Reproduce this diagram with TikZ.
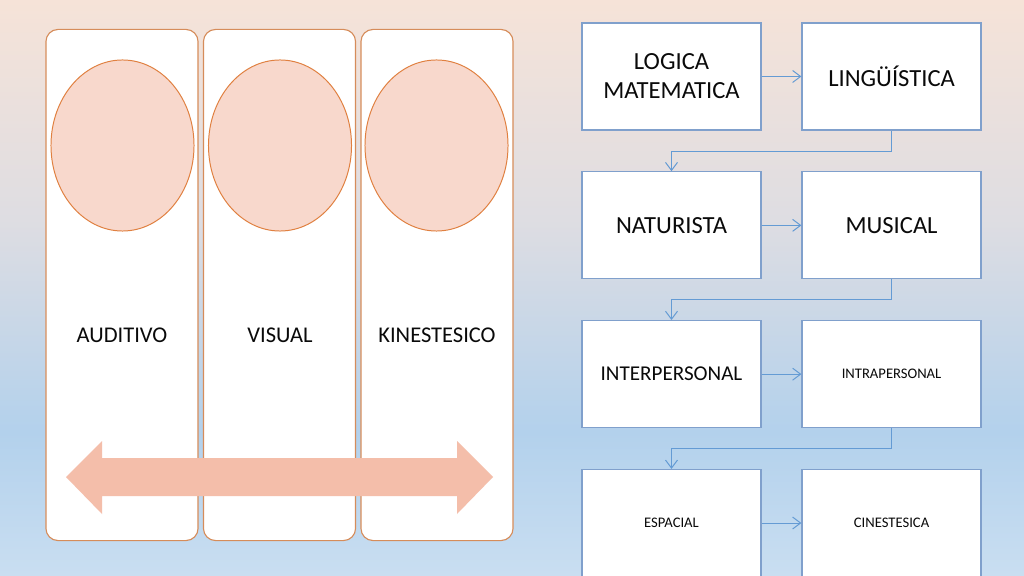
\documentclass[tikz,border=0pt]{standalone}
\usepackage{fontspec}
\setmainfont{Carlito}
\usepackage{tikz}
\usetikzlibrary{arrows.meta,shapes,positioning}
\usepackage{xcolor}
\definecolor{bgtop}{RGB}{246,227,216}
\definecolor{bgmid}{RGB}{222,221,226}
\definecolor{bgblue}{RGB}{179,209,236}
\definecolor{bgbottom}{RGB}{201,222,241}
\definecolor{colorange}{RGB}{214,140,90}
\definecolor{eorange}{RGB}{224,128,64}
\definecolor{epink}{RGB}{248,216,204}
\definecolor{salmon}{RGB}{244,190,170}
\definecolor{boxblue}{RGB}{128,160,204}
\definecolor{lnblue}{RGB}{100,155,212}
\definecolor{dftext}{RGB}{10,10,10}
\pgfdeclareverticalshading{slidebg}{100bp}{color(0bp)=(bgbottom); color(25bp)=(bgbottom); color(37.5bp)=(bgblue); color(56bp)=(bgmid); color(75bp)=(bgtop); color(100bp)=(bgtop)}
\tikzstyle{column} = [rectangle, rounded corners=0.3cm, minimum width=3.8cm, minimum height=12.775cm, draw=colorange, fill=white, line width=0.8pt]
\tikzstyle{bubble} = [ellipse, minimum width=3.575cm, minimum height=4.275cm, draw=eorange, fill=epink, line width=0.7pt]
\tikzstyle{colname} = [font=\fontsize{16}{19}\selectfont, text=dftext]
\tikzstyle{intel} = [rectangle, minimum width=4.475cm, minimum height=2.675cm, draw=boxblue, fill=white, line width=0.9pt, align=center, inner sep=0pt, text=dftext, font=\fontsize{17.5}{20.5}\selectfont]
\tikzstyle{arrow} = [line width=0.7pt, color=lnblue, -{Straight Barb[length=0.2cm,width=0.3cm]}]

\begin{document}
\begin{tikzpicture}[x=0.025cm, y=-0.025cm]
% Background
\useasboundingbox (0,0) rectangle (1024,576);
\shade[shading=slidebg] (0,0) rectangle (1024,576);

% Learning styles
\node (auditivo) [column] at (122,285) {};
\node (visual) [column] at (279.5,285) {};
\node (kinest) [column] at (437,285) {};
\node (bauditivo) [bubble] at (122.5,145.5) {};
\node (bvisual) [bubble] at (280,145.5) {};
\node (bkinest) [bubble] at (436.5,145.5) {};
\node (lauditivo) [colname] at (122,335) {AUDITIVO};
\node (lvisual) [colname] at (280,335) {VISUAL};
\node (lkinest) [colname] at (437,335) {KINESTESICO};

% Double arrow
\fill[salmon] (66,477) -- (102,441) -- (102,458) -- (457,458) -- (457,441) -- (493,477)
  -- (457,514) -- (457,496) -- (102,496) -- (102,514) -- cycle;

% Intelligences
\node (logica) [intel] at (671.5,76.5) {LOGICA\\MATEMATICA};
\node (linguistica) [intel, right of=logica, node distance=5.5cm] {LINGÜÍSTICA};
\node (naturista) [intel, below of=logica, node distance=3.72cm] {NATURISTA};
\node (musical) [intel, right of=naturista, node distance=5.5cm] {MUSICAL};
\node (inter) [intel, below of=naturista, node distance=3.72cm, font=\fontsize{15}{18}\selectfont] {INTERPERSONAL};
\node (intra) [intel, right of=inter, node distance=5.5cm, font=\fontsize{10.4}{12}\selectfont] {INTRAPERSONAL};
\node (espacial) [intel, below of=inter, node distance=3.72cm, font=\fontsize{10.4}{12}\selectfont] {ESPACIAL};
\node (cinest) [intel, right of=espacial, node distance=5.5cm, font=\fontsize{10.4}{12}\selectfont] {CINESTESICA};

% Connections
\draw[arrow] (logica) -- (linguistica);
\draw[arrow] (naturista) -- (musical);
\draw[arrow] (inter) -- (intra);
\draw[arrow] (espacial) -- (cinest);
\draw[arrow] (linguistica.south) -- ++(0,21) -| (naturista.north);
\draw[arrow] (musical.south) -- ++(0,20) -| (inter.north);
\draw[arrow] (intra.south) -- ++(0,20) -| (espacial.north);
\end{tikzpicture}
\end{document}
